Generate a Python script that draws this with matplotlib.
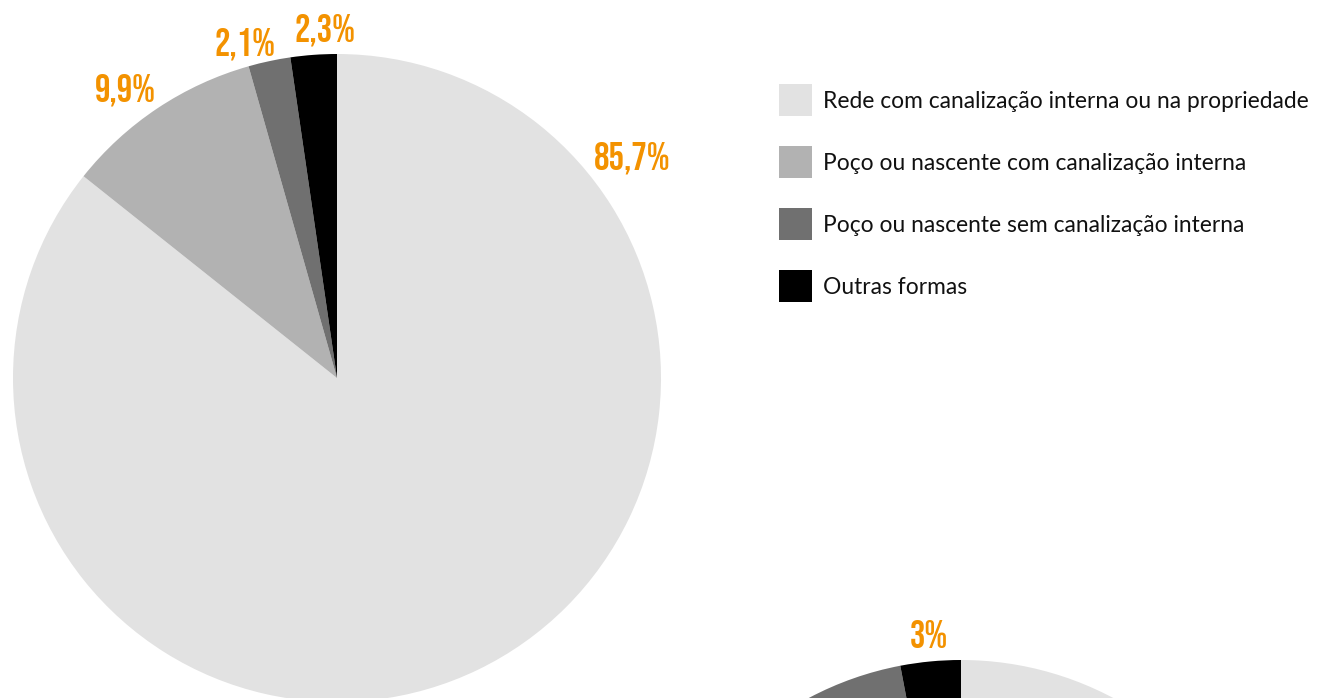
import matplotlib.pyplot as plt
from matplotlib.patches import Rectangle

# Water supply shares (%), two groups of households
categories = [
    "Rede com canalização interna ou na propriedade",
    "Poço ou nascente com canalização interna",
    "Poço ou nascente sem canalização interna",
    "Outras formas",
]
shares_a = [85.7, 9.9, 2.1, 2.3]
labels_a = ["85,7%", "9,9%", "2,1%", "2,3%"]
shares_b = [72.6, 14.9, 9.5, 3.0]
labels_b = ["", "", "", "3%"]

colors = ["#e2e2e2", "#b2b2b2", "#707070", "#000000"]
orange = "#f39200"

W, H = 1318, 698
fig = plt.figure(figsize=(W / 100, H / 100), dpi=100)
ax = fig.add_axes([0, 0, 1, 1])

R = 324
ax.pie(shares_a, colors=colors, startangle=90, counterclock=False,
       center=(337, H - 378), radius=R, frame=True,
       wedgeprops=dict(linewidth=0))
ax.pie(shares_b, colors=colors, startangle=90, counterclock=False,
       center=(961, H - 984), radius=R, frame=True,
       wedgeprops=dict(linewidth=0))
ax.set_xlim(0, W)
ax.set_ylim(0, H)
ax.set_aspect("equal")
ax.axis("off")

label_fonts = ["Bebas Neue", "Oswald", "DejaVu Sans"]
legend_fonts = ["Source Sans Pro", "Lato", "DejaVu Sans"]


def pct_label(x, baseline, s):
    ax.text(x, H - baseline, s, family=label_fonts, fontsize=27.8,
            color=orange, ha="center", va="baseline")


# label anchors: (centre x, baseline y) in pixels from top-left
pos_a = [(632, 170), (125, 102), (245, 55), (325, 42)]
for txt, (x, y) in zip(labels_a, pos_a):
    pct_label(x, y, txt)
pos_b = [None, None, None, (929, 648)]
for txt, p in zip(labels_b, pos_b):
    if txt:
        pct_label(p[0], p[1], txt)

# legend drawn by hand: square swatch + text
for i, (name, c) in enumerate(zip(categories, colors)):
    top = 84 + 62 * i
    ax.add_patch(Rectangle((779, H - top - 32), 33, 32, color=c, lw=0))
    ax.text(823, H - (108 + 62 * i), name, family=legend_fonts, fontsize=16.4,
            color="#111111", ha="left", va="baseline")

fig.savefig("out.png", dpi=100)
